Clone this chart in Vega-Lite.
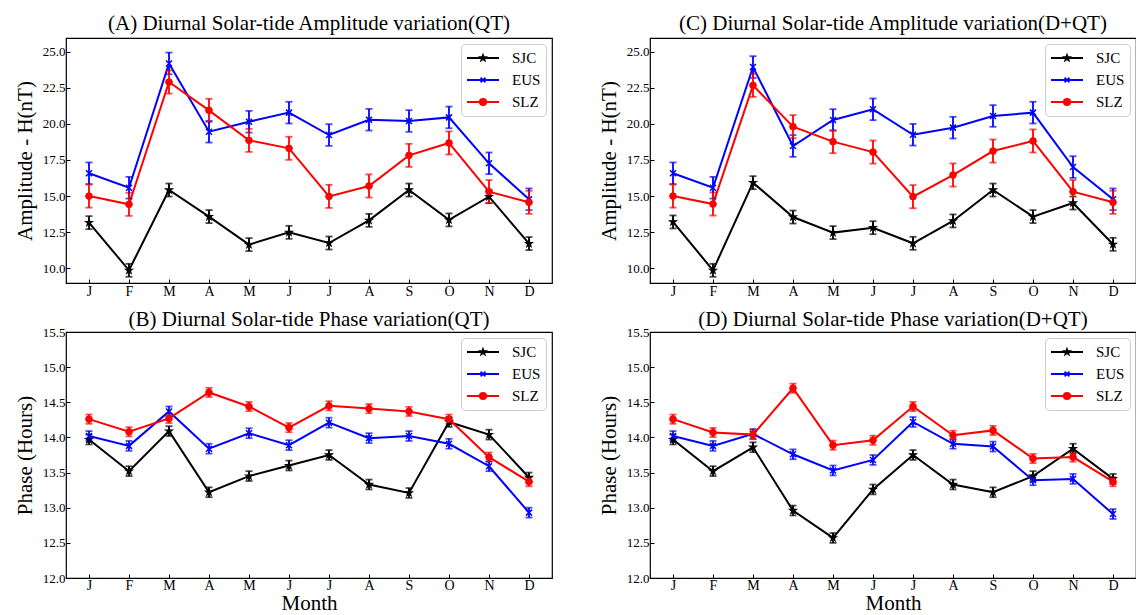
{
  "$schema": "https://vega.github.io/schema/vega-lite/v6.json",
  "autosize": {"type": "pad"},
  "padding": {"left": 13, "top": 12, "right": 0, "bottom": 0},
  "background": "white",
  "config": {
    "font": "Liberation Serif",
    "view": {"stroke": "black", "strokeWidth": 1.2},
    "axis": {
      "grid": false,
      "domain": false,
      "tickColor": "black",
      "tickSize": -4,
      "tickWidth": 1,
      "labelFont": "Liberation Serif",
      "labelFontSize": 13,
      "labelColor": "black",
      "labelPadding": 5,
      "titleFont": "Liberation Serif",
      "titleFontSize": 21,
      "titleFontWeight": "normal",
      "titleColor": "black"
    },
    "legend": {"labelFont": "Liberation Serif"},
    "title": {"font": "Liberation Serif", "fontSize": 21, "fontWeight": "normal", "color": "black", "offset": 4, "anchor": "middle"}
  },
  "data": {
    "values": [
      {"p": "A", "m": 1, "s": "SJC", "v": 13.16, "e": 0.45},
      {"p": "A", "m": 2, "s": "SJC", "v": 9.86, "e": 0.45},
      {"p": "A", "m": 3, "s": "SJC", "v": 15.42, "e": 0.45},
      {"p": "A", "m": 4, "s": "SJC", "v": 13.58, "e": 0.45},
      {"p": "A", "m": 5, "s": "SJC", "v": 11.64, "e": 0.45},
      {"p": "A", "m": 6, "s": "SJC", "v": 12.49, "e": 0.45},
      {"p": "A", "m": 7, "s": "SJC", "v": 11.75, "e": 0.45},
      {"p": "A", "m": 8, "s": "SJC", "v": 13.32, "e": 0.45},
      {"p": "A", "m": 9, "s": "SJC", "v": 15.42, "e": 0.45},
      {"p": "A", "m": 10, "s": "SJC", "v": 13.35, "e": 0.45},
      {"p": "A", "m": 11, "s": "SJC", "v": 14.96, "e": 0.45},
      {"p": "A", "m": 12, "s": "SJC", "v": 11.71, "e": 0.45},
      {"p": "A", "m": 1, "s": "EUS", "v": 16.58, "e": 0.75},
      {"p": "A", "m": 2, "s": "EUS", "v": 15.58, "e": 0.75},
      {"p": "A", "m": 3, "s": "EUS", "v": 24.19, "e": 0.75},
      {"p": "A", "m": 4, "s": "EUS", "v": 19.46, "e": 0.75},
      {"p": "A", "m": 5, "s": "EUS", "v": 20.15, "e": 0.75},
      {"p": "A", "m": 6, "s": "EUS", "v": 20.78, "e": 0.75},
      {"p": "A", "m": 7, "s": "EUS", "v": 19.23, "e": 0.75},
      {"p": "A", "m": 8, "s": "EUS", "v": 20.29, "e": 0.75},
      {"p": "A", "m": 9, "s": "EUS", "v": 20.2, "e": 0.75},
      {"p": "A", "m": 10, "s": "EUS", "v": 20.45, "e": 0.75},
      {"p": "A", "m": 11, "s": "EUS", "v": 17.27, "e": 0.75},
      {"p": "A", "m": 12, "s": "EUS", "v": 14.78, "e": 0.75},
      {"p": "A", "m": 1, "s": "SLZ", "v": 15.0, "e": 0.8},
      {"p": "A", "m": 2, "s": "SLZ", "v": 14.43, "e": 0.8},
      {"p": "A", "m": 3, "s": "SLZ", "v": 22.9, "e": 0.8},
      {"p": "A", "m": 4, "s": "SLZ", "v": 20.94, "e": 0.8},
      {"p": "A", "m": 5, "s": "SLZ", "v": 18.86, "e": 0.8},
      {"p": "A", "m": 6, "s": "SLZ", "v": 18.31, "e": 0.8},
      {"p": "A", "m": 7, "s": "SLZ", "v": 14.98, "e": 0.8},
      {"p": "A", "m": 8, "s": "SLZ", "v": 15.7, "e": 0.8},
      {"p": "A", "m": 9, "s": "SLZ", "v": 17.82, "e": 0.8},
      {"p": "A", "m": 10, "s": "SLZ", "v": 18.68, "e": 0.8},
      {"p": "A", "m": 11, "s": "SLZ", "v": 15.31, "e": 0.8},
      {"p": "A", "m": 12, "s": "SLZ", "v": 14.57, "e": 0.8},

      {"p": "C", "m": 1, "s": "SJC", "v": 13.21, "e": 0.45},
      {"p": "C", "m": 2, "s": "SJC", "v": 9.86, "e": 0.45},
      {"p": "C", "m": 3, "s": "SJC", "v": 15.93, "e": 0.45},
      {"p": "C", "m": 4, "s": "SJC", "v": 13.55, "e": 0.45},
      {"p": "C", "m": 5, "s": "SJC", "v": 12.47, "e": 0.45},
      {"p": "C", "m": 6, "s": "SJC", "v": 12.81, "e": 0.45},
      {"p": "C", "m": 7, "s": "SJC", "v": 11.73, "e": 0.45},
      {"p": "C", "m": 8, "s": "SJC", "v": 13.28, "e": 0.45},
      {"p": "C", "m": 9, "s": "SJC", "v": 15.42, "e": 0.45},
      {"p": "C", "m": 10, "s": "SJC", "v": 13.58, "e": 0.45},
      {"p": "C", "m": 11, "s": "SJC", "v": 14.52, "e": 0.45},
      {"p": "C", "m": 12, "s": "SJC", "v": 11.66, "e": 0.45},
      {"p": "C", "m": 1, "s": "EUS", "v": 16.58, "e": 0.75},
      {"p": "C", "m": 2, "s": "EUS", "v": 15.58, "e": 0.75},
      {"p": "C", "m": 3, "s": "EUS", "v": 23.94, "e": 0.75},
      {"p": "C", "m": 4, "s": "EUS", "v": 18.47, "e": 0.75},
      {"p": "C", "m": 5, "s": "EUS", "v": 20.27, "e": 0.75},
      {"p": "C", "m": 6, "s": "EUS", "v": 21.01, "e": 0.75},
      {"p": "C", "m": 7, "s": "EUS", "v": 19.25, "e": 0.75},
      {"p": "C", "m": 8, "s": "EUS", "v": 19.74, "e": 0.75},
      {"p": "C", "m": 9, "s": "EUS", "v": 20.55, "e": 0.75},
      {"p": "C", "m": 10, "s": "EUS", "v": 20.78, "e": 0.75},
      {"p": "C", "m": 11, "s": "EUS", "v": 17.01, "e": 0.75},
      {"p": "C", "m": 12, "s": "EUS", "v": 14.78, "e": 0.75},
      {"p": "C", "m": 1, "s": "SLZ", "v": 15.0, "e": 0.8},
      {"p": "C", "m": 2, "s": "SLZ", "v": 14.45, "e": 0.8},
      {"p": "C", "m": 3, "s": "SLZ", "v": 22.67, "e": 0.8},
      {"p": "C", "m": 4, "s": "SLZ", "v": 19.81, "e": 0.8},
      {"p": "C", "m": 5, "s": "SLZ", "v": 18.77, "e": 0.8},
      {"p": "C", "m": 6, "s": "SLZ", "v": 18.05, "e": 0.8},
      {"p": "C", "m": 7, "s": "SLZ", "v": 14.96, "e": 0.8},
      {"p": "C", "m": 8, "s": "SLZ", "v": 16.46, "e": 0.8},
      {"p": "C", "m": 9, "s": "SLZ", "v": 18.12, "e": 0.8},
      {"p": "C", "m": 10, "s": "SLZ", "v": 18.82, "e": 0.8},
      {"p": "C", "m": 11, "s": "SLZ", "v": 15.31, "e": 0.8},
      {"p": "C", "m": 12, "s": "SLZ", "v": 14.57, "e": 0.8},

      {"p": "B", "m": 1, "s": "SJC", "v": 13.97, "e": 0.07},
      {"p": "B", "m": 2, "s": "SJC", "v": 13.52, "e": 0.07},
      {"p": "B", "m": 3, "s": "SJC", "v": 14.09, "e": 0.07},
      {"p": "B", "m": 4, "s": "SJC", "v": 13.22, "e": 0.07},
      {"p": "B", "m": 5, "s": "SJC", "v": 13.45, "e": 0.07},
      {"p": "B", "m": 6, "s": "SJC", "v": 13.6, "e": 0.07},
      {"p": "B", "m": 7, "s": "SJC", "v": 13.75, "e": 0.07},
      {"p": "B", "m": 8, "s": "SJC", "v": 13.33, "e": 0.07},
      {"p": "B", "m": 9, "s": "SJC", "v": 13.21, "e": 0.07},
      {"p": "B", "m": 10, "s": "SJC", "v": 14.22, "e": 0.07},
      {"p": "B", "m": 11, "s": "SJC", "v": 14.04, "e": 0.07},
      {"p": "B", "m": 12, "s": "SJC", "v": 13.43, "e": 0.07},
      {"p": "B", "m": 1, "s": "EUS", "v": 14.02, "e": 0.07},
      {"p": "B", "m": 2, "s": "EUS", "v": 13.88, "e": 0.07},
      {"p": "B", "m": 3, "s": "EUS", "v": 14.37, "e": 0.07},
      {"p": "B", "m": 4, "s": "EUS", "v": 13.84, "e": 0.07},
      {"p": "B", "m": 5, "s": "EUS", "v": 14.06, "e": 0.07},
      {"p": "B", "m": 6, "s": "EUS", "v": 13.89, "e": 0.07},
      {"p": "B", "m": 7, "s": "EUS", "v": 14.21, "e": 0.07},
      {"p": "B", "m": 8, "s": "EUS", "v": 13.99, "e": 0.07},
      {"p": "B", "m": 9, "s": "EUS", "v": 14.02, "e": 0.07},
      {"p": "B", "m": 10, "s": "EUS", "v": 13.91, "e": 0.07},
      {"p": "B", "m": 11, "s": "EUS", "v": 13.59, "e": 0.07},
      {"p": "B", "m": 12, "s": "EUS", "v": 12.93, "e": 0.07},
      {"p": "B", "m": 1, "s": "SLZ", "v": 14.26, "e": 0.065},
      {"p": "B", "m": 2, "s": "SLZ", "v": 14.08, "e": 0.065},
      {"p": "B", "m": 3, "s": "SLZ", "v": 14.27, "e": 0.065},
      {"p": "B", "m": 4, "s": "SLZ", "v": 14.64, "e": 0.065},
      {"p": "B", "m": 5, "s": "SLZ", "v": 14.44, "e": 0.065},
      {"p": "B", "m": 6, "s": "SLZ", "v": 14.14, "e": 0.065},
      {"p": "B", "m": 7, "s": "SLZ", "v": 14.45, "e": 0.065},
      {"p": "B", "m": 8, "s": "SLZ", "v": 14.41, "e": 0.065},
      {"p": "B", "m": 9, "s": "SLZ", "v": 14.37, "e": 0.065},
      {"p": "B", "m": 10, "s": "SLZ", "v": 14.26, "e": 0.065},
      {"p": "B", "m": 11, "s": "SLZ", "v": 13.72, "e": 0.065},
      {"p": "B", "m": 12, "s": "SLZ", "v": 13.37, "e": 0.065},

      {"p": "D", "m": 1, "s": "SJC", "v": 13.97, "e": 0.07},
      {"p": "D", "m": 2, "s": "SJC", "v": 13.52, "e": 0.07},
      {"p": "D", "m": 3, "s": "SJC", "v": 13.86, "e": 0.07},
      {"p": "D", "m": 4, "s": "SJC", "v": 12.96, "e": 0.07},
      {"p": "D", "m": 5, "s": "SJC", "v": 12.57, "e": 0.07},
      {"p": "D", "m": 6, "s": "SJC", "v": 13.26, "e": 0.07},
      {"p": "D", "m": 7, "s": "SJC", "v": 13.75, "e": 0.07},
      {"p": "D", "m": 8, "s": "SJC", "v": 13.33, "e": 0.07},
      {"p": "D", "m": 9, "s": "SJC", "v": 13.22, "e": 0.07},
      {"p": "D", "m": 10, "s": "SJC", "v": 13.45, "e": 0.07},
      {"p": "D", "m": 11, "s": "SJC", "v": 13.84, "e": 0.07},
      {"p": "D", "m": 12, "s": "SJC", "v": 13.41, "e": 0.07},
      {"p": "D", "m": 1, "s": "EUS", "v": 14.02, "e": 0.07},
      {"p": "D", "m": 2, "s": "EUS", "v": 13.88, "e": 0.07},
      {"p": "D", "m": 3, "s": "EUS", "v": 14.05, "e": 0.07},
      {"p": "D", "m": 4, "s": "EUS", "v": 13.76, "e": 0.07},
      {"p": "D", "m": 5, "s": "EUS", "v": 13.53, "e": 0.07},
      {"p": "D", "m": 6, "s": "EUS", "v": 13.68, "e": 0.07},
      {"p": "D", "m": 7, "s": "EUS", "v": 14.22, "e": 0.07},
      {"p": "D", "m": 8, "s": "EUS", "v": 13.91, "e": 0.07},
      {"p": "D", "m": 9, "s": "EUS", "v": 13.87, "e": 0.07},
      {"p": "D", "m": 10, "s": "EUS", "v": 13.39, "e": 0.07},
      {"p": "D", "m": 11, "s": "EUS", "v": 13.41, "e": 0.07},
      {"p": "D", "m": 12, "s": "EUS", "v": 12.91, "e": 0.07},
      {"p": "D", "m": 1, "s": "SLZ", "v": 14.26, "e": 0.065},
      {"p": "D", "m": 2, "s": "SLZ", "v": 14.07, "e": 0.065},
      {"p": "D", "m": 3, "s": "SLZ", "v": 14.04, "e": 0.065},
      {"p": "D", "m": 4, "s": "SLZ", "v": 14.7, "e": 0.065},
      {"p": "D", "m": 5, "s": "SLZ", "v": 13.89, "e": 0.065},
      {"p": "D", "m": 6, "s": "SLZ", "v": 13.96, "e": 0.065},
      {"p": "D", "m": 7, "s": "SLZ", "v": 14.44, "e": 0.065},
      {"p": "D", "m": 8, "s": "SLZ", "v": 14.03, "e": 0.065},
      {"p": "D", "m": 9, "s": "SLZ", "v": 14.1, "e": 0.065},
      {"p": "D", "m": 10, "s": "SLZ", "v": 13.7, "e": 0.065},
      {"p": "D", "m": 11, "s": "SLZ", "v": 13.72, "e": 0.065},
      {"p": "D", "m": 12, "s": "SLZ", "v": 13.37, "e": 0.065}
    ]
  },
  "columns": 2,
  "spacing": {"row": 49, "column": 98},
  "bounds": "flush",
  "resolve": {"scale": {"color": "independent", "x": "independent", "y": "independent"}, "legend": {"color": "independent"}},
  "concat": [
    {
      "width": 486, "height": 245,
      "title": "(A) Diurnal Solar-tide Amplitude variation(QT)",
      "transform": [{"filter": "datum.p === 'A'"}],
      "encoding": {
        "x": {"field": "m", "type": "quantitative", "scale": {"domain": [0.425, 12.575], "nice": false, "zero": false},
              "axis": {"values": [1, 2, 3, 4, 5, 6, 7, 8, 9, 10, 11, 12], "labelExpr": "['J','F','M','A','M','J','J','A','S','O','N','D'][datum.value - 1]", "title": null, "labelAngle": 0, "labelFontSize": 14}},
        "y": {"field": "v", "type": "quantitative", "scale": {"domain": [8.98, 25.95], "nice": false, "zero": false},
              "axis": {"values": [10, 12.5, 15, 17.5, 20, 22.5, 25], "format": ".1f", "title": "Amplitude - H(nT)", "titlePadding": 7}}
      },
      "layer": [
        {"mark": {"type": "line", "strokeWidth": 2},
         "encoding": {"color": {"field": "s", "type": "nominal", "scale": {"domain": ["SJC", "EUS", "SLZ"], "range": ["black", "blue", "red"]},
           "legend": {"orient": "top-right", "offset": 6, "title": null, "padding": 5, "cornerRadius": 4, "strokeColor": "#cccccc", "fillColor": "rgba(255,255,255,0.8)",
             "labelFont": "Liberation Serif", "labelFontSize": 15, "labelColor": "black", "labelOffset": 12, "symbolSize": 1024, "symbolStrokeWidth": 1.8, "rowPadding": 4, "clipHeight": 18,
             "encode": {"symbols": {"update": {
               "shape": {"signal": "datum.value === 'SJC' ? 'M-1,0H1M0,-0.17L0.04,-0.055L0.162,-0.052L0.065,0.021L0.1,0.138L0,0.068L-0.1,0.138L-0.065,0.021L-0.162,-0.052L-0.04,-0.055Z' : datum.value === 'EUS' ? 'M-1,0H1M-0.15,-0.15L0.15,0.15M-0.15,0.15L0.15,-0.15' : 'M-1,0H1M0.2,0A0.2,0.2 0 1,1 -0.2,0A0.2,0.2 0 1,1 0.2,0Z'"},
               "fill": {"signal": "datum.value === 'SJC' ? 'black' : datum.value === 'SLZ' ? 'red' : 'transparent'"},
               "stroke": {"signal": "datum.value === 'SJC' ? 'black' : datum.value === 'EUS' ? 'blue' : 'red'"},
               "fillOpacity": {"value": 1}, "strokeWidth": {"value": 1.8}}}}}}}},
        {"mark": {"type": "errorbar", "thickness": 1.8, "ticks": {"size": 7}},
         "encoding": {"yError": {"field": "e"}, "color": {"field": "s", "type": "nominal", "scale": {"domain": ["SJC", "EUS", "SLZ"], "range": ["black", "blue", "red"]}, "legend": null}}},
        {"transform": [{"filter": "datum.s === 'SJC'"}],
         "mark": {"type": "point", "shape": "M0,-1L0.235,-0.324L0.951,-0.309L0.38,0.124L0.588,0.809L0,0.4L-0.588,0.809L-0.38,0.124L-0.951,-0.309L-0.235,-0.324Z", "filled": true, "fill": "black", "stroke": "black", "strokeWidth": 1.2, "size": 50, "opacity": 1}},
        {"transform": [{"filter": "datum.s === 'EUS'"}],
         "mark": {"type": "point", "shape": "M-1,-1L1,1M-1,1L1,-1", "filled": false, "stroke": "blue", "strokeWidth": 1.5, "size": 36, "opacity": 1}},
        {"transform": [{"filter": "datum.s === 'SLZ'"}],
         "mark": {"type": "point", "shape": "circle", "filled": true, "fill": "red", "stroke": "red", "strokeWidth": 1, "size": 45, "opacity": 1}}
      ]
    },
    {
      "width": 486, "height": 245,
      "title": "(C) Diurnal Solar-tide Amplitude variation(D+QT)",
      "transform": [{"filter": "datum.p === 'C'"}],
      "encoding": {
        "x": {"field": "m", "type": "quantitative", "scale": {"domain": [0.425, 12.575], "nice": false, "zero": false},
              "axis": {"values": [1, 2, 3, 4, 5, 6, 7, 8, 9, 10, 11, 12], "labelExpr": "['J','F','M','A','M','J','J','A','S','O','N','D'][datum.value - 1]", "title": null, "labelAngle": 0, "labelFontSize": 14}},
        "y": {"field": "v", "type": "quantitative", "scale": {"domain": [8.98, 25.95], "nice": false, "zero": false},
              "axis": {"values": [10, 12.5, 15, 17.5, 20, 22.5, 25], "format": ".1f", "title": "Amplitude - H(nT)", "titlePadding": 7}}
      },
      "layer": [
        {"mark": {"type": "line", "strokeWidth": 2},
         "encoding": {"color": {"field": "s", "type": "nominal", "scale": {"domain": ["SJC", "EUS", "SLZ"], "range": ["black", "blue", "red"]},
           "legend": {"orient": "top-right", "offset": 6, "title": null, "padding": 5, "cornerRadius": 4, "strokeColor": "#cccccc", "fillColor": "rgba(255,255,255,0.8)",
             "labelFont": "Liberation Serif", "labelFontSize": 15, "labelColor": "black", "labelOffset": 12, "symbolSize": 1024, "symbolStrokeWidth": 1.8, "rowPadding": 4, "clipHeight": 18,
             "encode": {"symbols": {"update": {
               "shape": {"signal": "datum.value === 'SJC' ? 'M-1,0H1M0,-0.17L0.04,-0.055L0.162,-0.052L0.065,0.021L0.1,0.138L0,0.068L-0.1,0.138L-0.065,0.021L-0.162,-0.052L-0.04,-0.055Z' : datum.value === 'EUS' ? 'M-1,0H1M-0.15,-0.15L0.15,0.15M-0.15,0.15L0.15,-0.15' : 'M-1,0H1M0.2,0A0.2,0.2 0 1,1 -0.2,0A0.2,0.2 0 1,1 0.2,0Z'"},
               "fill": {"signal": "datum.value === 'SJC' ? 'black' : datum.value === 'SLZ' ? 'red' : 'transparent'"},
               "stroke": {"signal": "datum.value === 'SJC' ? 'black' : datum.value === 'EUS' ? 'blue' : 'red'"},
               "fillOpacity": {"value": 1}, "strokeWidth": {"value": 1.8}}}}}}}},
        {"mark": {"type": "errorbar", "thickness": 1.8, "ticks": {"size": 7}},
         "encoding": {"yError": {"field": "e"}, "color": {"field": "s", "type": "nominal", "scale": {"domain": ["SJC", "EUS", "SLZ"], "range": ["black", "blue", "red"]}, "legend": null}}},
        {"transform": [{"filter": "datum.s === 'SJC'"}],
         "mark": {"type": "point", "shape": "M0,-1L0.235,-0.324L0.951,-0.309L0.38,0.124L0.588,0.809L0,0.4L-0.588,0.809L-0.38,0.124L-0.951,-0.309L-0.235,-0.324Z", "filled": true, "fill": "black", "stroke": "black", "strokeWidth": 1.2, "size": 50, "opacity": 1}},
        {"transform": [{"filter": "datum.s === 'EUS'"}],
         "mark": {"type": "point", "shape": "M-1,-1L1,1M-1,1L1,-1", "filled": false, "stroke": "blue", "strokeWidth": 1.5, "size": 36, "opacity": 1}},
        {"transform": [{"filter": "datum.s === 'SLZ'"}],
         "mark": {"type": "point", "shape": "circle", "filled": true, "fill": "red", "stroke": "red", "strokeWidth": 1, "size": 45, "opacity": 1}}
      ]
    },
    {
      "width": 486, "height": 246,
      "title": {"text": "(B) Diurnal Solar-tide Phase variation(QT)", "offset": -4},
      "transform": [{"filter": "datum.p === 'B'"}],
      "encoding": {
        "x": {"field": "m", "type": "quantitative", "scale": {"domain": [0.425, 12.575], "nice": false, "zero": false},
              "axis": {"values": [1, 2, 3, 4, 5, 6, 7, 8, 9, 10, 11, 12], "labelExpr": "['J','F','M','A','M','J','J','A','S','O','N','D'][datum.value - 1]", "title": "Month", "titlePadding": 0, "labelAngle": 0, "labelFontSize": 14, "labelPadding": 4}},
        "y": {"field": "v", "type": "quantitative", "scale": {"domain": [12, 15.5], "nice": false, "zero": false},
              "axis": {"values": [12, 12.5, 13, 13.5, 14, 14.5, 15, 15.5], "format": ".1f", "title": "Phase (Hours)", "titlePadding": 7}}
      },
      "layer": [
        {"mark": {"type": "line", "strokeWidth": 2},
         "encoding": {"color": {"field": "s", "type": "nominal", "scale": {"domain": ["SJC", "EUS", "SLZ"], "range": ["black", "blue", "red"]},
           "legend": {"orient": "top-right", "offset": 6, "title": null, "padding": 5, "cornerRadius": 4, "strokeColor": "#cccccc", "fillColor": "rgba(255,255,255,0.8)",
             "labelFont": "Liberation Serif", "labelFontSize": 15, "labelColor": "black", "labelOffset": 12, "symbolSize": 1024, "symbolStrokeWidth": 1.8, "rowPadding": 4, "clipHeight": 18,
             "encode": {"symbols": {"update": {
               "shape": {"signal": "datum.value === 'SJC' ? 'M-1,0H1M0,-0.17L0.04,-0.055L0.162,-0.052L0.065,0.021L0.1,0.138L0,0.068L-0.1,0.138L-0.065,0.021L-0.162,-0.052L-0.04,-0.055Z' : datum.value === 'EUS' ? 'M-1,0H1M-0.15,-0.15L0.15,0.15M-0.15,0.15L0.15,-0.15' : 'M-1,0H1M0.2,0A0.2,0.2 0 1,1 -0.2,0A0.2,0.2 0 1,1 0.2,0Z'"},
               "fill": {"signal": "datum.value === 'SJC' ? 'black' : datum.value === 'SLZ' ? 'red' : 'transparent'"},
               "stroke": {"signal": "datum.value === 'SJC' ? 'black' : datum.value === 'EUS' ? 'blue' : 'red'"},
               "fillOpacity": {"value": 1}, "strokeWidth": {"value": 1.8}}}}}}}},
        {"mark": {"type": "errorbar", "thickness": 1.8, "ticks": {"size": 7}},
         "encoding": {"yError": {"field": "e"}, "color": {"field": "s", "type": "nominal", "scale": {"domain": ["SJC", "EUS", "SLZ"], "range": ["black", "blue", "red"]}, "legend": null}}},
        {"transform": [{"filter": "datum.s === 'SJC'"}],
         "mark": {"type": "point", "shape": "M0,-1L0.235,-0.324L0.951,-0.309L0.38,0.124L0.588,0.809L0,0.4L-0.588,0.809L-0.38,0.124L-0.951,-0.309L-0.235,-0.324Z", "filled": true, "fill": "black", "stroke": "black", "strokeWidth": 1.2, "size": 50, "opacity": 1}},
        {"transform": [{"filter": "datum.s === 'EUS'"}],
         "mark": {"type": "point", "shape": "M-1,-1L1,1M-1,1L1,-1", "filled": false, "stroke": "blue", "strokeWidth": 1.5, "size": 36, "opacity": 1}},
        {"transform": [{"filter": "datum.s === 'SLZ'"}],
         "mark": {"type": "point", "shape": "circle", "filled": true, "fill": "red", "stroke": "red", "strokeWidth": 1, "size": 45, "opacity": 1}}
      ]
    },
    {
      "width": 486, "height": 246,
      "title": {"text": "(D) Diurnal Solar-tide Phase variation(D+QT)", "offset": -4},
      "transform": [{"filter": "datum.p === 'D'"}],
      "encoding": {
        "x": {"field": "m", "type": "quantitative", "scale": {"domain": [0.425, 12.575], "nice": false, "zero": false},
              "axis": {"values": [1, 2, 3, 4, 5, 6, 7, 8, 9, 10, 11, 12], "labelExpr": "['J','F','M','A','M','J','J','A','S','O','N','D'][datum.value - 1]", "title": "Month", "titlePadding": 0, "labelAngle": 0, "labelFontSize": 14, "labelPadding": 4}},
        "y": {"field": "v", "type": "quantitative", "scale": {"domain": [12, 15.5], "nice": false, "zero": false},
              "axis": {"values": [12, 12.5, 13, 13.5, 14, 14.5, 15, 15.5], "format": ".1f", "title": "Phase (Hours)", "titlePadding": 7}}
      },
      "layer": [
        {"mark": {"type": "line", "strokeWidth": 2},
         "encoding": {"color": {"field": "s", "type": "nominal", "scale": {"domain": ["SJC", "EUS", "SLZ"], "range": ["black", "blue", "red"]},
           "legend": {"orient": "top-right", "offset": 6, "title": null, "padding": 5, "cornerRadius": 4, "strokeColor": "#cccccc", "fillColor": "rgba(255,255,255,0.8)",
             "labelFont": "Liberation Serif", "labelFontSize": 15, "labelColor": "black", "labelOffset": 12, "symbolSize": 1024, "symbolStrokeWidth": 1.8, "rowPadding": 4, "clipHeight": 18,
             "encode": {"symbols": {"update": {
               "shape": {"signal": "datum.value === 'SJC' ? 'M-1,0H1M0,-0.17L0.04,-0.055L0.162,-0.052L0.065,0.021L0.1,0.138L0,0.068L-0.1,0.138L-0.065,0.021L-0.162,-0.052L-0.04,-0.055Z' : datum.value === 'EUS' ? 'M-1,0H1M-0.15,-0.15L0.15,0.15M-0.15,0.15L0.15,-0.15' : 'M-1,0H1M0.2,0A0.2,0.2 0 1,1 -0.2,0A0.2,0.2 0 1,1 0.2,0Z'"},
               "fill": {"signal": "datum.value === 'SJC' ? 'black' : datum.value === 'SLZ' ? 'red' : 'transparent'"},
               "stroke": {"signal": "datum.value === 'SJC' ? 'black' : datum.value === 'EUS' ? 'blue' : 'red'"},
               "fillOpacity": {"value": 1}, "strokeWidth": {"value": 1.8}}}}}}}},
        {"mark": {"type": "errorbar", "thickness": 1.8, "ticks": {"size": 7}},
         "encoding": {"yError": {"field": "e"}, "color": {"field": "s", "type": "nominal", "scale": {"domain": ["SJC", "EUS", "SLZ"], "range": ["black", "blue", "red"]}, "legend": null}}},
        {"transform": [{"filter": "datum.s === 'SJC'"}],
         "mark": {"type": "point", "shape": "M0,-1L0.235,-0.324L0.951,-0.309L0.38,0.124L0.588,0.809L0,0.4L-0.588,0.809L-0.38,0.124L-0.951,-0.309L-0.235,-0.324Z", "filled": true, "fill": "black", "stroke": "black", "strokeWidth": 1.2, "size": 50, "opacity": 1}},
        {"transform": [{"filter": "datum.s === 'EUS'"}],
         "mark": {"type": "point", "shape": "M-1,-1L1,1M-1,1L1,-1", "filled": false, "stroke": "blue", "strokeWidth": 1.5, "size": 36, "opacity": 1}},
        {"transform": [{"filter": "datum.s === 'SLZ'"}],
         "mark": {"type": "point", "shape": "circle", "filled": true, "fill": "red", "stroke": "red", "strokeWidth": 1, "size": 45, "opacity": 1}}
      ]
    }
  ]
}
